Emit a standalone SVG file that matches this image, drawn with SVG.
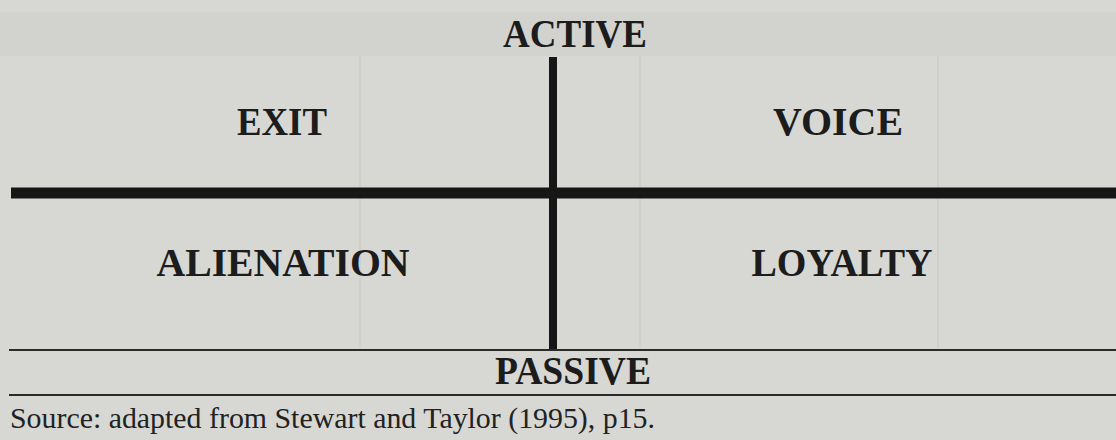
<svg xmlns="http://www.w3.org/2000/svg" width="1116" height="440" viewBox="0 0 1116 440">
<style>
.bg{fill:#d7d8d4}
.lbl{font-family:"Liberation Serif","Times New Roman",serif;font-weight:bold;font-size:39px;fill:#1c1c1c;text-anchor:middle}
.src{font-family:"Liberation Serif","Times New Roman",serif;font-size:29px;fill:#222}
.axis{stroke:#161616;fill:none}
.rule{stroke:#2a2a2a;stroke-width:2;fill:none}
.faint{stroke:#cfd0cc;stroke-width:2;fill:none}
</style>
<rect class="bg" x="0" y="0" width="1116" height="440"/>
<rect x="0" y="12" width="1116" height="44" fill="#d2d3cf"/>
<g id="background-grid">
<line class="faint" x1="360" y1="56" x2="360" y2="348"/>
<line class="faint" x1="640" y1="56" x2="640" y2="348"/>
<line class="faint" x1="938" y1="56" x2="938" y2="348"/>
</g>
<g id="connectors">
<line class="axis" x1="553" y1="57" x2="553" y2="349" stroke-width="8"/>
<line class="axis" x1="11" y1="193" x2="1116" y2="193" stroke-width="11"/>
<line class="rule" x1="9" y1="350" x2="1116" y2="350"/>
<line class="rule" x1="9" y1="395" x2="1116" y2="395"/>
</g>
<g id="active"><text class="lbl" x="575" y="47" textLength="144" lengthAdjust="spacingAndGlyphs">ACTIVE</text></g>
<g id="exit"><text class="lbl" x="282" y="135" textLength="90" lengthAdjust="spacingAndGlyphs">EXIT</text></g>
<g id="voice"><text class="lbl" x="838" y="135" textLength="130" lengthAdjust="spacingAndGlyphs">VOICE</text></g>
<g id="alienation"><text class="lbl" x="283" y="276" textLength="253" lengthAdjust="spacingAndGlyphs">ALIENATION</text></g>
<g id="loyalty"><text class="lbl" x="842" y="276" textLength="181" lengthAdjust="spacingAndGlyphs">LOYALTY</text></g>
<g id="passive"><text class="lbl" x="573" y="384" textLength="156" lengthAdjust="spacingAndGlyphs">PASSIVE</text></g>
<g id="source"><text class="src" x="10" y="428" textLength="645" lengthAdjust="spacingAndGlyphs">Source: adapted from Stewart and Taylor (1995), p15.</text></g>
</svg>
